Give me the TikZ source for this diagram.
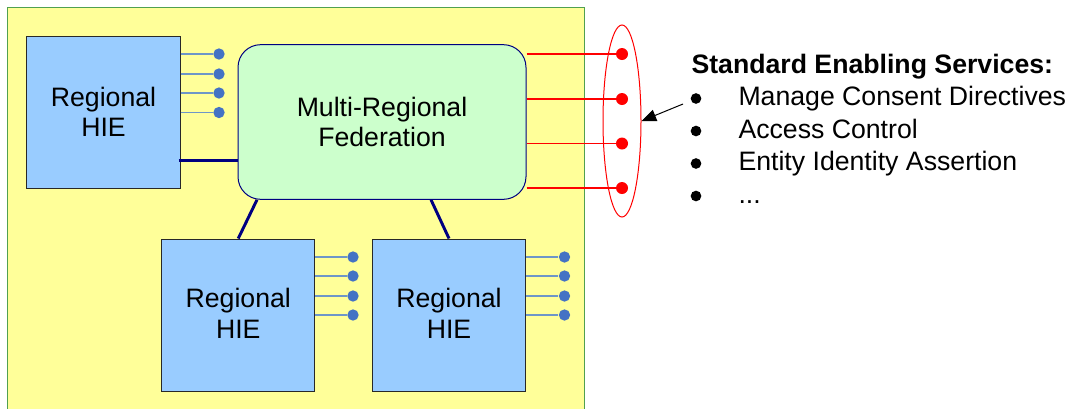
\documentclass[tikz,border=0pt]{standalone}
\usepackage{fontspec}
\setmainfont{Liberation Sans}
\usetikzlibrary{arrows.meta,shapes.geometric}

\definecolor{bgyellow}{RGB}{255,255,153}
\definecolor{bggreen}{RGB}{80,160,80}
\definecolor{hieblue}{RGB}{153,204,255}
\definecolor{fedgreen}{RGB}{204,255,204}
\definecolor{navy}{RGB}{0,0,128}
\definecolor{dotblue}{RGB}{68,114,196}
\definecolor{stubblue}{RGB}{110,150,200}

\tikzset{every picture/.style={line width=0.75pt}}
\tikzset{
  hiebox/.style={draw={rgb,255:red,40;green,40;blue,40},fill=hieblue,minimum width=115pt,minimum height=114pt,inner sep=0pt,align=center},
  fedbox/.style={draw=navy,fill=fedgreen,rounded corners=17pt,minimum width=216pt,minimum height=116pt,inner sep=0pt,align=center},
  bdot/.style={circle,fill=dotblue,minimum size=8.5pt,inner sep=0pt},
  rdot/.style={circle,fill=red,minimum size=9pt,inner sep=0pt},
  bullet/.style={circle,fill=black,minimum size=8pt,inner sep=0pt},
  stub/.style={draw=stubblue,line width=1pt},
  link/.style={draw=navy,line width=2.2pt},
  redline/.style={draw=red,line width=0.8pt},
}

\begin{document}
\begin{tikzpicture}[x=0.75pt,y=0.75pt,yscale=-1,xscale=1,font=\fontsize{20pt}{22.5pt}\selectfont]
		\useasboundingbox (0,0) rectangle (1071,408);

		%yellow area
		\draw [draw=bggreen,fill=bgyellow] (7,7) rectangle (584,412);

		\node [hiebox] (hieA) at (103.5,112) {Regional\\HIE};
		\node [hiebox] (hieB) at (238.25,315) {\raisebox{2.5pt}{\shortstack{Regional\\[2pt]HIE}}};
		\node [hiebox] (hieC) at (449,315) {\raisebox{2.5pt}{\shortstack{Regional\\[2pt]HIE}}};
		\node [fedbox] (fed) at (382,122) {Multi-Regional\\Federation};

		\draw [link] ([xshift=-1.5pt,yshift=36.4pt]hieA.east) -- ([yshift=36.4pt]hieA.east -| fed.west);
		\draw [link] ([xshift=14.6pt]fed.south west) -- (hieB.north);
		\draw [link] ([xshift=-71.6pt]fed.south east) -- (hieC.north);

		%blue stubs
		\foreach \i/\y in {1/54,2/74,3/93,4/112.5} {
			\node [bdot] (a\i) at (219,\y) {};
			\draw [stub] (a\i -| hieA.east) -- (a\i);
		}
		\foreach \i/\y in {1/257,2/276,3/296,4/315} {
			\node [bdot] (b\i) at (353,\y) {};
			\draw [stub] (b\i -| hieB.east) -- (b\i);
			\node [bdot] (c\i) at (564.5,\y) {};
			\draw [stub] (c\i -| hieC.east) -- (c\i);
		}

		%red services
		\foreach \i/\y in {1/54,2/99,3/143.5,4/188} {
			\node [rdot] (r\i) at (622,\y) {};
			\draw [redline] (r\i -| fed.east) -- (r\i);
		}
		\node [draw=red,ellipse,minimum width=28.5pt,minimum height=144pt,inner sep=0pt] (svc) at (622,121) {};

		\coordinate (arr) at (683,104);
		\draw [-{Triangle[length=11pt,width=9pt]}] (arr) -- (svc.east);

		\node [anchor=base west,inner sep=0pt,font=\fontsize{20pt}{24pt}\selectfont\bfseries] (head) at (691,73) {Standard Enabling Services:};
		\foreach \i/\y/\t in {1/105.5/Manage Consent Directives,2/138/Access Control,3/170.5/Entity Identity Assertion} {
			\node [bullet] (bul\i) at (696,\y-7) {};
			\node [anchor=base west,inner sep=0pt] (item\i) at (738,\y) {\t};
		}
		\node [bullet] (bul4) at (696,196) {};
		\node [anchor=base west,inner sep=0pt] (item4) at (738,203) {...};

\end{tikzpicture}
\end{document}
